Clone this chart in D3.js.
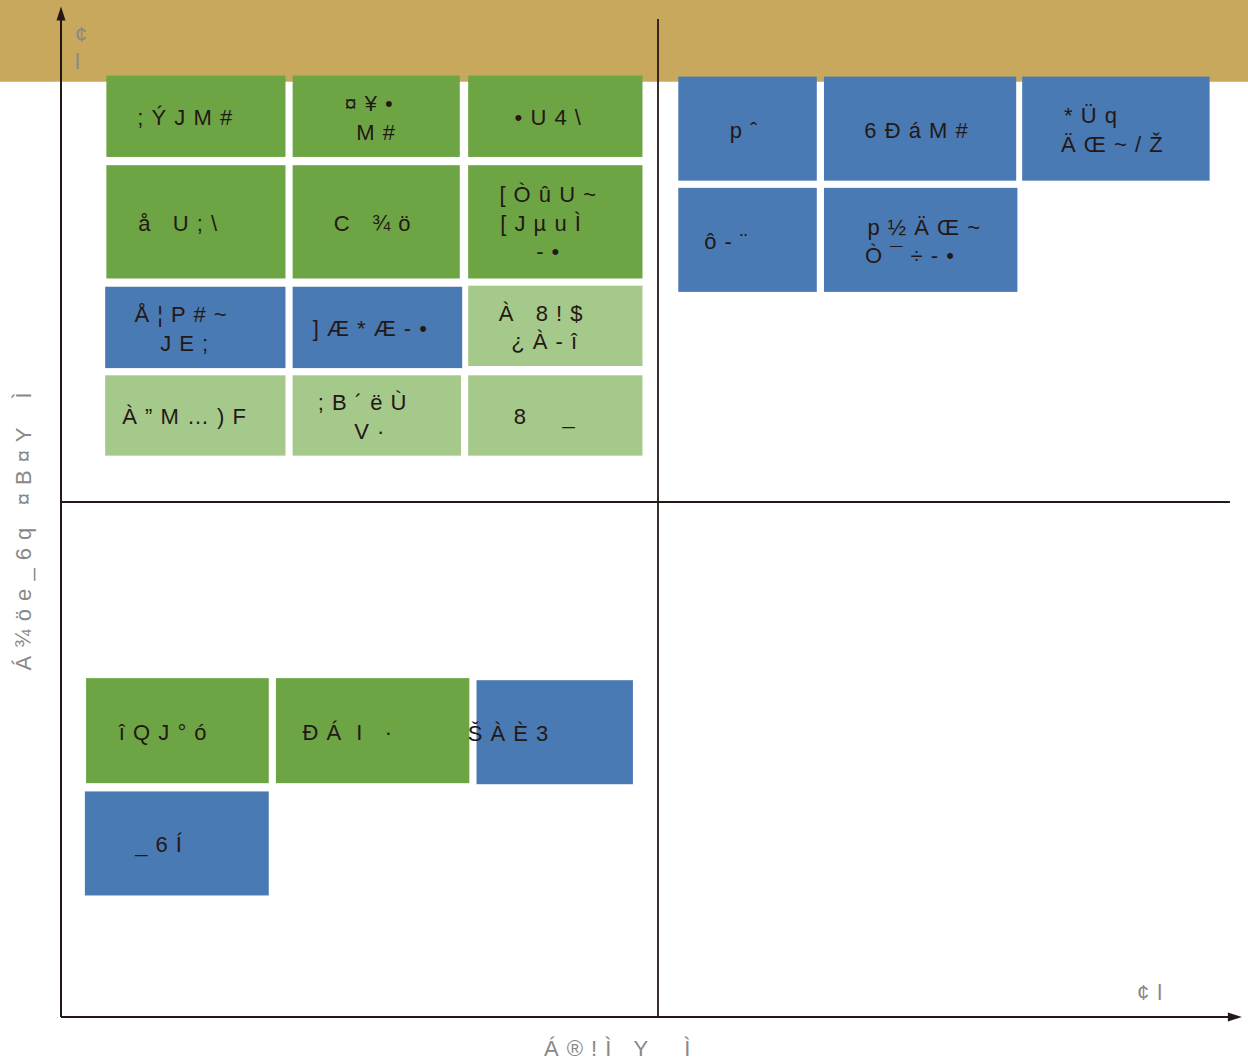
<!DOCTYPE html>
<meta charset="utf-8">
<html>
<head>
<style>
  body { margin: 0; background: #fff; }
  svg text { font-family: "Liberation Sans", Arial, sans-serif; white-space: pre; }
</style>
</head>
<body>
<div id="chart"></div>

<script src="https://d3js.org/d3.v7.min.js"></script>

<script>

  // Quadrant boxes, in chart units (0..100 each way, the cross lines sit at 50)
  var boxLeft   = [3.8, 19.4, 34.1, 3.8, 19.4, 34.1, 3.7, 19.4, 34.1, 3.7, 19.4, 34.1,
                   51.7, 63.9, 80.5, 51.7, 63.9,
                   2.1, 18.0, 34.8, 2.0];
  var boxRight  = [18.8, 33.4, 48.7, 18.8, 33.4, 48.7, 18.8, 33.6, 48.7, 18.8, 33.5, 48.7,
                   63.3, 80.0, 96.2, 63.3, 80.1,
                   17.4, 34.2, 47.9, 17.4];
  var boxTop    = [91.4, 91.4, 91.4, 82.7, 82.7, 82.7, 70.9, 70.9, 71.0, 62.3, 62.3, 62.3,
                   91.3, 91.3, 91.3, 80.5, 80.5,
                   32.9, 32.9, 32.7, 21.9];
  var boxBottom = [83.5, 83.5, 83.5, 71.7, 71.7, 71.7, 63.0, 63.0, 63.2, 54.5, 54.5, 54.5,
                   81.2, 81.2, 81.2, 70.4, 70.4,
                   22.7, 22.7, 22.6, 11.8];
  var boxGroup  = ["dark", "dark", "dark", "dark", "dark", "dark", "blue", "blue", "light", "light", "light", "light",
                   "blue", "blue", "blue", "blue", "blue",
                   "dark", "dark", "blue", "blue"];
  var boxLabels = [
    ["; Ý J M #   "],
    ["¤ ¥ •  ", "M #"],
    ["• U 4 \\  "],
    ["å   U ; \\     "],
    ["C   ¾ ö "],
    ["[ Ò û U ~  ", "[ J µ u Ì    ", "- •  "],
    ["Å ¦ P # ~    ", "J E ;   "],
    ["] Æ * Æ - •  "],
    ["À   8 ! $    ", "¿ À - î   "],
    ["À ” M … ) F   "],
    ["; B ´ ë Ù    ", "V ·  "],
    ["8     _   "],
    ["p ˆ "],
    ["6 Ð á M # "],
    ["* Ü q       ", "Ä Œ ~ / Ž "],
    ["ô - ¨      "],
    [" p ½ Ä Œ ~", "Ò ¯ ÷ - •   "],
    ["î Q J ° ó    "],
    ["Ð Á  I   ·       "],
    ["Š À È 3             "],
    ["_ 6 Í     "]
  ];

  // axis and corner labels
  var yAxisTitle = "Á ¾ ö e _ 6 q   ¤ B ¤ Y    Ì";
  var xAxisTitle = "Á ® ! Ì   Y     Ì";
  var yEndLabel = ["¢", "l"];
  var xEndLabel = "¢ l";

  var bandFrom = 90.8;   // gold band across the top

  var width = 1248, height = 1062;

  var svg = d3.select("#chart")
    .append("svg")
      .attr("width", width)
      .attr("height", height);

  var x = d3.scaleLinear().domain([0, 50]).range([61, 658]);
  var y = d3.scaleLinear().domain([0, 50]).range([1017, 502]);

  var color = d3.scaleOrdinal()
    .domain(["dark", "light", "blue"])
    .range(["#6da545", "#a5c98a", "#4a7ab3"]);

  var ink = "#231815";

  // gold band
  svg.append("rect")
    .attr("x", 0)
    .attr("width", width)
    .attr("y", 0)
    .attr("height", y(bandFrom))
    .attr("fill", "#c8a85c");

  // cross lines
  svg.append("line")
    .attr("x1", x(50)).attr("x2", x(50))
    .attr("y1", y(0)).attr("y2", y(96.9))
    .attr("stroke", ink).attr("stroke-width", 1.8);
  svg.append("line")
    .attr("x1", x(0)).attr("x2", x(97.9))
    .attr("y1", y(50)).attr("y2", y(50))
    .attr("stroke", ink).attr("stroke-width", 1.8);

  // axes with arrow heads
  svg.append("line")
    .attr("x1", x(0)).attr("x2", x(0))
    .attr("y1", y(0)).attr("y2", y(97.5))
    .attr("stroke", ink).attr("stroke-width", 2);
  svg.append("line")
    .attr("x1", x(0)).attr("x2", x(98.3))
    .attr("y1", y(0)).attr("y2", y(0))
    .attr("stroke", ink).attr("stroke-width", 2);

  var tipY = y(98.1), tipX = x(98.9);
  svg.append("path")
    .attr("d", "M" + x(0) + "," + tipY + "L" + (x(0) - 4.5) + "," + (tipY + 14) + "L" + (x(0) + 4.5) + "," + (tipY + 14) + "Z")
    .attr("fill", ink);
  svg.append("path")
    .attr("d", "M" + tipX + "," + y(0) + "L" + (tipX - 14) + "," + (y(0) - 4.5) + "L" + (tipX - 14) + "," + (y(0) + 4.5) + "Z")
    .attr("fill", ink);

  // boxes
  var boxes = boxLeft.map(function(d, i) {
    return { x0: d, x1: boxRight[i], y0: boxTop[i], y1: boxBottom[i], group: boxGroup[i], lines: boxLabels[i] };
  });

  svg.append("g")
    .selectAll("rect")
    .data(boxes)
    .enter()
    .append("rect")
      .attr("x", function(d) { return x(d.x0); })
      .attr("y", function(d) { return y(d.y0); })
      .attr("width", function(d) { return x(d.x1) - x(d.x0); })
      .attr("height", function(d) { return y(d.y1) - y(d.y0); })
      .attr("fill", function(d) { return color(d.group); });

  var lineH = 28.5;

  svg.append("g")
    .selectAll("text")
    .data(boxes)
    .enter()
    .append("text")
      .attr("xml:space", "preserve")
      .attr("text-anchor", "middle")
      .attr("font-size", 22)
      .attr("letter-spacing", 1)
      .attr("fill", ink)
      .each(function(d) {
        var cx = (x(d.x0) + x(d.x1)) / 2,
            cy = (y(d.y0) + y(d.y1)) / 2,
            first = cy + 9 - (d.lines.length - 1) * lineH / 2;
        d3.select(this).selectAll("tspan")
          .data(d.lines)
          .enter()
          .append("tspan")
            .attr("x", cx)
            .attr("y", function(t, j) { return first + j * lineH; })
            .text(function(t) { return t; });
      });

  // gray labels
  var gray = "#888888";

  svg.append("text")
    .attr("font-size", 22)
    .attr("fill", gray)
    .selectAll("tspan")
    .data(yEndLabel)
    .enter()
    .append("tspan")
      .attr("x", x(0) + 14)
      .attr("y", function(d, i) { return 42 + i * 27; })
      .text(function(d) { return d; });

  svg.append("text")
    .attr("xml:space", "preserve")
    .attr("font-size", 22)
    .attr("letter-spacing", 1)
    .attr("fill", gray)
    .attr("x", 1137)
    .attr("y", 1000)
    .text(xEndLabel);

  svg.append("text")
    .attr("xml:space", "preserve")
    .attr("font-size", 22)
    .attr("letter-spacing", 1)
    .attr("fill", gray)
    .attr("x", 544)
    .attr("y", 1056)
    .text(xAxisTitle);

  svg.append("text")
    .attr("xml:space", "preserve")
    .attr("font-size", 22)
    .attr("letter-spacing", 1)
    .attr("fill", gray)
    .attr("text-anchor", "middle")
    .attr("transform", "translate(31,531) rotate(-90)")
    .text(yAxisTitle);

</script>
</body>
</html>
